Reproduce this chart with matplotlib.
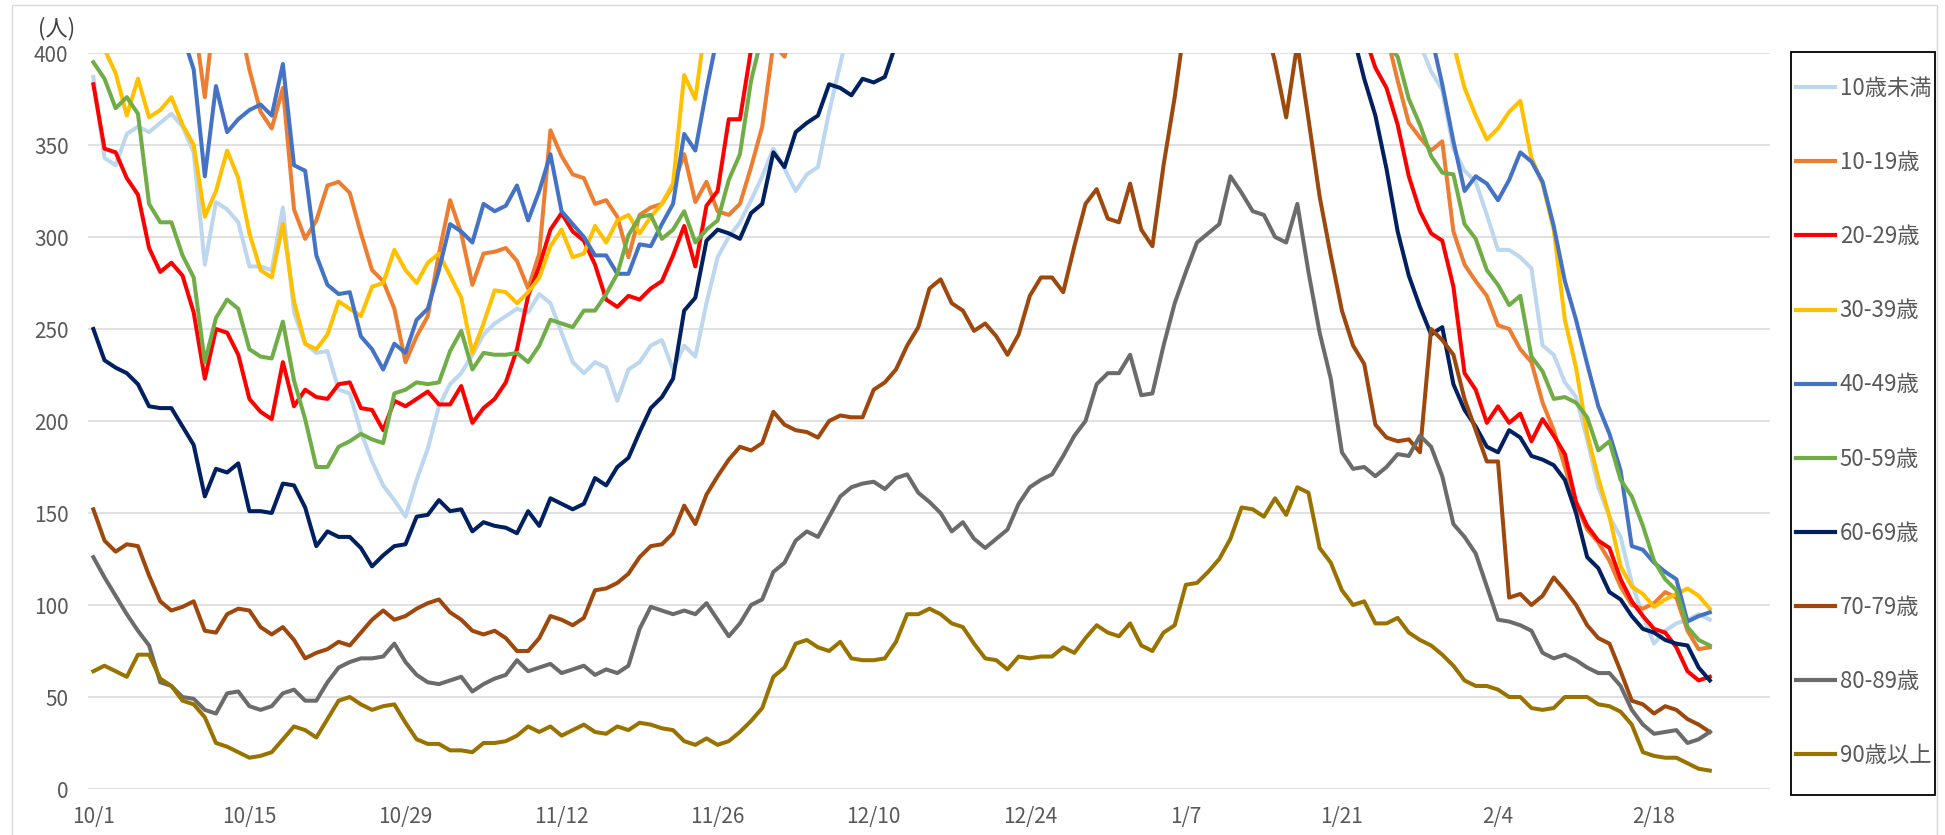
import matplotlib
matplotlib.use('Agg')
import matplotlib.pyplot as plt
from matplotlib.patches import Rectangle

plt.rcParams['font.family'] = ['Noto Sans CJK JP', 'DejaVu Sans']

tick_labels = ['10/1', '10/15', '10/29', '11/12', '11/26', '12/10', '12/24', '1/7', '1/21', '2/4', '2/18']
tick_days = [0, 14, 28, 42, 56, 70, 84, 98, 112, 126, 140]
y_ticks = [0, 50, 100, 150, 200, 250, 300, 350, 400]

names = ['10歳未満', '10-19歳', '20-29歳', '30-39歳', '40-49歳',
         '50-59歳', '60-69歳', '70-79歳', '80-89歳', '90歳以上']
colors = ['#BDD7EE', '#ED7D31', '#FF0000', '#FFC000', '#4472C4',
          '#70AD47', '#002060', '#9E480E', '#6B6B6B', '#997300']

u10 = [387, 343, 339, 356, 360, 357, 362, 367, 360, 346, 285, 319, 315, 308, 284, 284, 282, 316, 259, 242, 237, 238, 217, 215, 194,
       178, 165, 157, 148, 168, 185,
       208, 220, 226, 236, 247, 253, 257, 261, 259, 269, 264, 248, 232, 226, 232, 229, 211, 228, 232, 241, 244, 228, 241, 235, 264, 289, 300,
       308, 320, 333, 348, 337, 325, 334, 338, 368, 394,
       420, 445, 470, 495, 520, 540, 560, 575, 590, 610, 630, 650, 660, 680, 700, 720, 740, 760, 790, 820,
       850, 880, 900, 930, 960, 990, 1010, 1040, 1060, 1080, 1090, 1100, 1080, 1060, 1030, 1000, 960, 920, 880, 840,
       800, 760, 720, 680, 640, 600, 560, 520, 490, 460, 430,
       405, 390, 380, 348, 336, 330, 312, 293, 293, 289, 283, 241, 236, 221, 213, 190, 164, 148, 137, 112, 94, 79, 86, 90, 92, 95, 92]

a10 = [450, 440, 430, 445, 430, 425, 420, 430, 415, 420,
       376,
       430, 440, 420,
       391, 368, 359, 381, 315, 299, 309, 328, 330, 324, 302, 282, 276, 261, 232, 246,
       257, 291, 320, 302, 274, 291, 292, 294, 287, 272, 291, 358, 344, 334, 332, 318, 320, 311, 289, 312, 316, 318, 328, 345, 319, 330, 314, 312, 318, 338, 360,
       405, 398,
       420, 440, 460, 490, 520, 550, 580, 600, 630, 660, 690, 720, 750, 780, 800, 820, 850, 880, 910, 940,
       970, 1000, 1030, 1060, 1090, 1120, 1150, 1170, 1190, 1200, 1210, 1190, 1170, 1140, 1100, 1060, 1010, 960, 910, 860,
       810, 760, 710, 670, 630, 590, 560, 530, 500, 480, 460, 440, 425,
       410, 385, 362, 354, 347, 352, 303, 285, 276, 268, 252, 250, 239, 232, 210, 195, 175, 155, 141, 134, 124, 110, 100, 98, 101, 107, 104, 86, 76, 77]

a20 = [383, 348, 346, 332, 323, 294, 281, 286, 279, 259, 223, 250, 248, 236, 212, 205, 201, 232, 208, 217, 213, 212, 220, 221, 207, 206, 195, 211, 208, 212,
       216, 209, 209, 219, 199, 207, 212, 221, 239, 268, 284, 304, 313, 303, 298, 285, 266, 262, 268, 266, 272, 276, 290, 306, 284, 317, 325, 364, 364,
       402, 420, 445, 470, 500, 530, 560, 590, 620, 650, 680, 710, 740, 770, 800, 840, 880, 920, 960, 1000,
       1040, 1080, 1120, 1160, 1200, 1240, 1280, 1310, 1340, 1360, 1370, 1360, 1340, 1300, 1250, 1200, 1140, 1080, 1020, 960,
       900, 840, 780, 730, 680, 640, 600, 570, 540, 510, 490, 470, 450, 430, 415,
       410, 392, 381, 361, 333, 314, 302, 298, 273, 226, 217, 199, 208, 199, 204, 189, 201, 192, 182, 156, 143, 135, 131, 114, 102, 94, 87, 85, 77, 64, 59, 61]

a30 = [410, 402, 389, 366, 386, 365, 369, 376, 361, 350, 311, 325, 347, 332, 302, 282, 278, 307, 265, 242, 239, 247, 265, 261, 257, 273, 275, 293, 282, 275,
       286, 291, 279, 267, 237, 253, 271, 270, 264, 270, 278, 295, 304, 289, 291, 306, 297, 309, 312, 302, 311, 318, 329, 388, 375,
       420, 440, 470, 500, 530, 560, 590, 620, 650, 680, 710, 740, 770, 800, 830, 860, 890, 920, 950, 980,
       1010, 1040, 1070, 1100, 1130, 1160, 1190, 1220, 1250, 1280, 1310, 1340, 1360, 1380, 1390, 1400, 1390, 1370, 1340, 1300,
       1260, 1220, 1170, 1120, 1070, 1020, 970, 920, 870, 820, 780, 740, 700, 660, 630, 600, 570, 545, 520, 500,
       480, 465, 450, 440, 430, 420, 410,
       405, 381, 366, 353, 359, 368, 374, 343, 329, 304, 255, 229, 193, 169, 148, 121, 110, 106, 99, 103, 106, 109, 105, 98]

a40 = [430, 425, 420, 430, 425, 420, 415, 420, 410,
       391, 333, 382, 357, 364, 369, 372, 366, 394, 339, 336, 290, 274, 269, 270, 246, 239, 228, 242, 237, 255,
       261, 282, 307, 303, 297, 318, 314, 317, 328, 309, 325, 345, 314, 307, 300, 290, 290, 280, 280, 296, 295, 307, 318, 356, 347, 380,
       410, 430, 460, 490, 520, 550, 580, 610, 640, 670, 700, 730, 760, 790, 820, 850, 880, 910, 940, 970,
       1000, 1030, 1060, 1090, 1120, 1150, 1180, 1200, 1220, 1240, 1250, 1240, 1220, 1190, 1150, 1110, 1070, 1020, 970, 920,
       870, 830, 790, 750, 710, 680, 650, 620, 590, 570, 550, 530, 510, 495, 480, 465, 455, 445, 440, 435,
       430, 425, 420, 415, 410,
       383, 352, 325, 333, 329, 320, 331, 346, 341, 330, 306, 276, 255, 231, 208, 193, 173, 132, 130, 123, 118, 114, 91, 94, 96]

a50 = [395, 386, 370, 376, 367, 318, 308, 308, 290, 278, 232, 256, 266, 261, 239, 235, 234, 254, 222, 201, 175, 175, 186, 189, 193, 190, 188, 215, 217, 221,
       220, 221, 238, 249, 228, 237, 236, 236, 237, 232, 241, 255, 253, 251, 260, 260, 269, 280, 301, 311, 312, 299, 304, 314, 297, 304, 309, 331, 345, 385,
       410, 440, 470, 500, 530, 560, 590, 620, 650, 680, 710, 740, 770, 800, 830, 860, 890, 920, 950, 980,
       1010, 1040, 1060, 1080, 1100, 1110, 1100, 1080, 1050, 1010, 970, 930, 890, 850, 810, 770, 730, 690, 650, 620,
       590, 560, 540, 520, 500, 485, 470, 460, 450, 440, 432, 425, 420, 415, 412, 408, 405,
       398, 375, 361, 344, 335, 334, 307, 299, 282, 274, 263, 268, 235, 227, 212, 213, 210, 202, 184, 189, 168, 159, 143, 124, 114, 108, 88, 81, 78]

a60 = [250, 233, 229, 226, 220, 208, 207, 207, 197, 187, 159, 174, 172, 177, 151, 151, 150, 166, 165, 153, 132, 140, 137, 137, 131, 121, 127, 132, 133, 148,
       149, 157, 151, 152, 140, 145, 143, 142, 139, 151, 143, 158, 155, 152, 155, 169, 165, 175, 180, 194, 207, 213, 223, 260, 267, 298, 304, 302, 299, 313, 318,
       346, 338, 357, 362, 366, 383, 381, 377, 386, 384, 387,
       405, 420, 440, 460, 480, 500, 520, 540, 560, 580, 600, 620, 640, 660, 690, 720, 750, 780, 810, 840,
       860, 880, 890, 880, 860, 830, 800, 760, 720, 680, 640, 610, 580, 550, 520, 500, 480, 460, 445, 430,
       420, 410,
       386, 366, 337, 303, 279, 262, 247, 251, 220, 206, 197, 186, 183, 195, 191, 181, 179, 176, 168, 150, 126, 120, 107, 103, 94, 87, 85, 81, 79, 78, 66, 59]

a70 = [152, 135, 129, 133, 132, 116, 102, 97, 99, 102, 86, 85, 95, 98, 97, 88, 84, 88, 81, 71, 74, 76, 80, 78, 85, 92, 97, 92, 94, 98,
       101, 103, 96, 92, 86, 84, 86, 82, 75, 75, 82, 94, 92, 89, 93, 108, 109, 112, 117, 126, 132, 133, 139, 154, 144, 160, 170, 179, 186, 184, 188,
       205, 198, 195, 194, 191, 200, 203, 202, 202, 217, 221, 228, 241, 251, 272, 277, 264, 260, 249, 253, 246, 236, 247, 268, 278, 278, 270, 295, 318, 326,
       310, 308, 329, 304, 295, 339, 376,
       420, 460, 500, 520, 510, 480, 450, 420,
       395, 365, 405, 364, 322, 290, 260, 241, 231, 198, 191, 189, 190, 183, 250, 244, 236, 212, 195, 178, 178, 104, 106, 100, 105, 115, 108, 100, 89, 82,
       79, 64, 48, 46, 41, 45, 43, 38, 35, 31]

a80 = [126, 115, 105, 95, 86, 78, 58, 56, 50, 49, 43, 41, 52, 53, 45, 43, 45, 52, 54, 48, 48, 58, 66, 69, 71, 71, 72, 79, 69, 62,
       58, 57, 59, 61, 53, 57, 60, 62, 70, 64, 66, 68, 63, 65, 67, 62, 65, 63, 67, 87, 99, 97, 95, 97, 95, 101, 92, 83, 90, 100, 103,
       118, 123, 135, 140, 137, 148, 159, 164, 166, 167, 163, 169, 171, 161, 156, 150, 140, 145, 136, 131, 136, 141, 155, 164, 168, 171, 181, 192, 200, 220,
       226, 226, 236, 214, 215, 241, 264,
       281, 297, 302, 307, 333, 324, 314, 312, 300, 297, 318, 281, 248, 223, 183, 174, 175, 170, 175, 182, 181, 192, 186, 170, 144,
       137, 128, 110, 92, 91, 89, 86, 74, 71, 73, 70, 66, 63, 63, 56, 43, 35, 30, 31, 32, 25, 27, 31]

a90 = [64, 67, 64, 61, 73, 73, 60, 56, 48, 46, 39, 25, 23, 20, 17, 18, 20, 27, 34, 32, 28, 38, 48, 50, 46, 43, 45, 46, 36, 27,
       24.5, 24.5, 21, 21, 20, 25, 25, 26, 29, 34, 31, 34, 29, 32, 35, 31, 30, 34, 32, 36, 35, 33, 32, 26, 24, 27.5, 24, 26, 31, 37, 44,
       61, 66, 79, 81, 77, 75, 80, 71, 70, 70, 71, 80, 95, 95, 98, 95, 90, 88, 79, 71, 70, 65, 72, 71, 72, 72, 77, 74, 82, 89,
       85, 83, 90, 78, 75, 85, 89,
       111, 112, 118, 125, 136, 153, 152, 148, 158, 149, 164, 161, 131, 123, 108, 100, 102, 90, 90, 93, 85, 81, 78, 73, 67,
       59, 56, 56, 54, 50, 50, 44, 43, 44, 50, 50, 50, 46, 45, 42, 35, 20, 18, 17, 17, 14, 11, 10]

all_series = [u10, a10, a20, a30, a40, a50, a60, a70, a80, a90]

W, H = 1945, 835
fig = plt.figure(figsize=(W / 100, H / 100), dpi=100)
fig.patch.set_facecolor('white')

# chart-area border
fig.patches.append(Rectangle((12 / W, -0.05), (1937 - 12) / W, 1 - 5 / H + 0.05,
                             transform=fig.transFigure, fill=False,
                             edgecolor='#D9D9D9', lw=1.0))

ax = fig.add_axes([88 / W, 1 - 789 / H, (1770 - 88) / W, (789 - 53) / H])
for name, vals, col in zip(names, all_series, colors):
    ax.plot(range(len(vals)), vals, color=col, lw=2.9, label=name)

ax.set_ylim(0, 400)
ax.set_xlim(-0.48, 150.4)
ax.set_yticks(y_ticks)
ax.set_xticks(tick_days)
ax.set_xticklabels(tick_labels)
ax.grid(axis='y', color='#D9D9D9', lw=1.1)
ax.set_axisbelow(True)
for s in ax.spines.values():
    s.set_visible(False)
ax.tick_params(axis='both', length=0, colors='#595959', labelsize=15)
ax.tick_params(axis='y', pad=14)
ax.tick_params(axis='x', pad=12)

fig.text(57 / W, 1 - 29 / H, '(人)', ha='center', va='center', fontsize=16, color='#404040')

# legend
fig.patches.append(Rectangle((1791 / W, 1 - 795 / H), (1935 - 1791) / W, (795 - 52) / H,
                             transform=fig.transFigure, fill=False,
                             edgecolor='black', lw=1.3))
leg = fig.legend(loc='upper left', bbox_to_anchor=(1796 / W, 1 - 77 / H),
                 frameon=False, fontsize=16, labelspacing=2.3,
                 handlelength=1.75, handletextpad=0.22, borderpad=0, borderaxespad=0)
for t in leg.get_texts():
    t.set_color('#595959')
for l in leg.get_lines():
    l.set_linewidth(3.0)

fig.savefig('out.png', dpi=100)
